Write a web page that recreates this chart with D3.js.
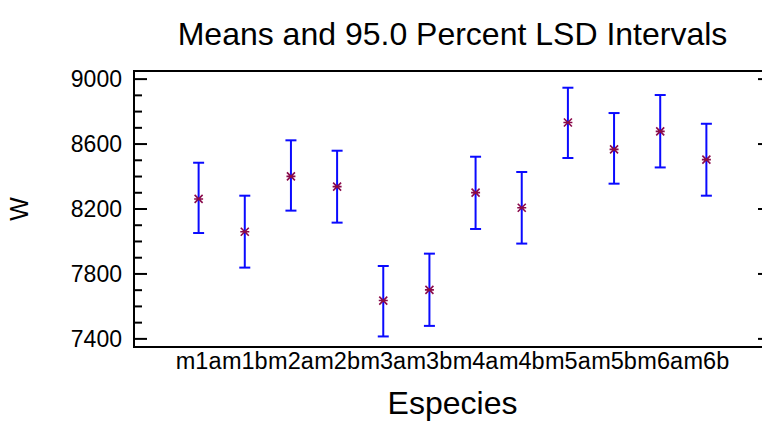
<!DOCTYPE html>
<html>
<head>
<meta charset="utf-8">
<script src="https://cdn.jsdelivr.net/npm/d3@7"></script>
<style>
  body { margin: 0; background: #fff; }
  svg { display: block; font-family: "Liberation Sans", Arial, sans-serif; }
</style>
</head>
<body>
<script>
// values
var species = ['m1a', 'm1b', 'm2a', 'm2b', 'm3a', 'm3b', 'm4a', 'm4b', 'm5a', 'm5b', 'm6a', 'm6b']
var means = [8262, 8060, 8401, 8338, 7636, 7702, 8301, 8208, 8733, 8567, 8678, 8504]
var lower = [8052, 7839, 8190, 8116, 7415, 7480, 8077, 7987, 8514, 8356, 8456, 8282]
var upper = [8485, 8282, 8623, 8559, 7849, 7925, 8522, 8428, 8947, 8791, 8902, 8725]
var majorTicks = [7400, 7800, 8200, 8600, 9000]

var config = {
  width: 762,
  height: 421,
  left: 134,
  top: 71,
  right: 771,
  bottom: 347,
}

var svg = d3.select('body').append('svg')
  .attr('width', config.width)
  .attr('height', config.height)

var x = d3.scalePoint()
  .domain(species)
  .range([config.left, config.right])
  .padding(1.4)

var y = d3.scaleLinear()
  .domain([7350, 9050])
  .range([config.bottom, config.top])

var minorTicks = d3.range(7400, 9001, 100).filter(v => majorTicks.indexOf(v) < 0)

// title
svg.append('text')
  .attr('x', (config.left + config.right) / 2)
  .attr('y', 45)
  .attr('text-anchor', 'middle')
  .style('font-size', '32px')
  .text('Means and 95.0 Percent LSD Intervals')

// left axis: labels and inward ticks
var yAxis = svg.append('g')
yAxis.selectAll('.major').data(majorTicks).enter().append('line')
  .attr('x1', config.left).attr('x2', config.left + 13)
  .attr('y1', d => y(d)).attr('y2', d => y(d))
  .attr('stroke', '#000').attr('stroke-width', 2)
yAxis.selectAll('.minor').data(minorTicks).enter().append('line')
  .attr('x1', config.left).attr('x2', config.left + 8)
  .attr('y1', d => y(d)).attr('y2', d => y(d))
  .attr('stroke', '#000').attr('stroke-width', 2)
yAxis.selectAll('.rmajor').data(majorTicks).enter().append('line')
  .attr('x1', config.right).attr('x2', config.right - 13)
  .attr('y1', d => y(d)).attr('y2', d => y(d))
  .attr('stroke', '#000').attr('stroke-width', 2)
yAxis.selectAll('text').data(majorTicks).enter().append('text')
  .attr('x', config.left - 12)
  .attr('y', d => y(d))
  .attr('dy', '0.35em')
  .attr('text-anchor', 'end')
  .style('font-size', '23px')
  .text(d => d)

// frame
svg.append('rect')
  .attr('x', config.left).attr('y', config.top)
  .attr('width', config.right - config.left)
  .attr('height', config.bottom - config.top)
  .attr('fill', 'none').attr('stroke', '#000').attr('stroke-width', 2)

// x labels
svg.append('g').selectAll('text').data(species).enter().append('text')
  .attr('x', d => x(d))
  .attr('y', 369)
  .attr('text-anchor', 'middle')
  .style('font-size', '23.5px')
  .text(d => d)

// axis titles
svg.append('text')
  .attr('x', (config.left + config.right) / 2)
  .attr('y', 414)
  .attr('text-anchor', 'middle')
  .style('font-size', '32px')
  .text('Especies')

svg.append('text')
  .attr('transform', 'translate(28,' + (config.top + config.bottom) / 2 + ') rotate(-90)')
  .attr('text-anchor', 'middle')
  .style('font-size', '25px')
  .text('W')

// intervals
var bars = svg.append('g').selectAll('g').data(species).enter().append('g')
bars.append('line')
  .attr('x1', d => x(d)).attr('x2', d => x(d))
  .attr('y1', (d, i) => y(upper[i])).attr('y2', (d, i) => y(lower[i]))
  .attr('stroke', '#0a0aff').attr('stroke-width', 2)
bars.append('line')
  .attr('x1', d => x(d) - 5.5).attr('x2', d => x(d) + 5.5)
  .attr('y1', (d, i) => y(upper[i])).attr('y2', (d, i) => y(upper[i]))
  .attr('stroke', '#0a0aff').attr('stroke-width', 2)
bars.append('line')
  .attr('x1', d => x(d) - 5.5).attr('x2', d => x(d) + 5.5)
  .attr('y1', (d, i) => y(lower[i])).attr('y2', (d, i) => y(lower[i]))
  .attr('stroke', '#0a0aff').attr('stroke-width', 2)

// mean markers
var star = 'M-4.5,0L4.5,0M-4,-4L4,4M-4,4L4,-4'
bars.append('path')
  .attr('d', star)
  .attr('transform', (d, i) => 'translate(' + x(d) + ',' + y(means[i]) + ')')
  .attr('fill', 'none')
  .attr('stroke', '#8a0a4a')
  .attr('stroke-width', 1.6)
</script>
</body>
</html>
